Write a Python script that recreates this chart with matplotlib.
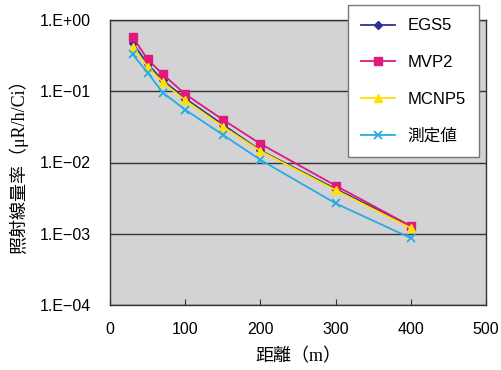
import math
import matplotlib
matplotlib.use("Agg")
import matplotlib.pyplot as plt
from matplotlib.ticker import FixedLocator, FuncFormatter

plt.rcParams['font.family'] = ['Liberation Sans', 'Noto Sans CJK JP']

# distance (m)
distance = [30, 50, 70, 100, 150, 200, 300, 400]
# exposure rate (uR/h/Ci)
egs5 = [0.48, 0.24, 0.143, 0.079, 0.034, 0.0148, 0.00426, 0.00127]
mvp2 = [0.58, 0.28, 0.174, 0.091, 0.040, 0.0183, 0.00474, 0.00128]
mcnp5 = [0.42, 0.22, 0.134, 0.0746, 0.032, 0.0145, 0.0041, 0.0012]
measured = [0.33, 0.183, 0.096, 0.055, 0.0245, 0.0109, 0.00267, 0.00087]

labels = ['EGS5', 'MVP2', 'MCNP5', '測定値']
yticks = [1e0, 1e-1, 1e-2, 1e-3, 1e-4]
xticks = [0, 100, 200, 300, 400, 500]


def sci_fmt(v, pos):
    s = '1.E%+03d' % round(math.log10(v))
    return s.replace('-', '\u2212')


fig = plt.figure(figsize=(5.02, 3.70), dpi=100)
ax = fig.add_axes([110/502, 1-305/370, 376/502, 285/370])
ax.set_facecolor('#d3d3d5')

ax.plot(distance, egs5, color='#2e3192', marker='D', ms=4, lw=1.3, label=labels[0])
ax.plot(distance, mvp2, color='#e0197d', marker='s', ms=5.5, lw=1.3, label=labels[1])
ax.plot(distance, mcnp5, color='#ffe100', marker='^', ms=5.5, lw=1.3, label=labels[2])
ax.plot(distance, measured, color='#29abe2', marker='x', ms=6, mew=1.3, lw=1.3, label=labels[3])

ax.set_yscale('log')
ax.set_ylim(1e-4, 1e0)
ax.set_xlim(0, 500)
ax.yaxis.set_major_locator(FixedLocator(yticks))
ax.yaxis.set_minor_locator(FixedLocator([]))
ax.yaxis.set_major_formatter(FuncFormatter(sci_fmt))
ax.xaxis.set_major_locator(FixedLocator(xticks))
ax.grid(axis='y', color='#333333', lw=1)
ax.set_axisbelow(True)
ax.tick_params(axis='x', direction='in', length=4, labelsize=11.5, pad=12, color='#333333')
ax.tick_params(axis='y', length=0, labelsize=11.5, pad=14)
for s in ax.spines.values():
    s.set_color('#333333')
    s.set_linewidth(1)

lab_font = ['Liberation Serif', 'Noto Sans CJK JP']
ax.set_xlabel('距離（m）', fontsize=13, family=lab_font, labelpad=8)
ax.set_ylabel('照射線量率（μR/h/Ci）', fontsize=13, family=lab_font, labelpad=8)

leg = fig.legend(loc='upper left', bbox_to_anchor=(348/502, 1-5/370), fontsize=12,
                 labelspacing=1.3, handlelength=2.0, borderpad=0.8, handletextpad=0.75,
                 borderaxespad=0, fancybox=False, framealpha=1, edgecolor='#777777')
leg.get_frame().set_linewidth(1)

fig.savefig('out.png', dpi=100)
